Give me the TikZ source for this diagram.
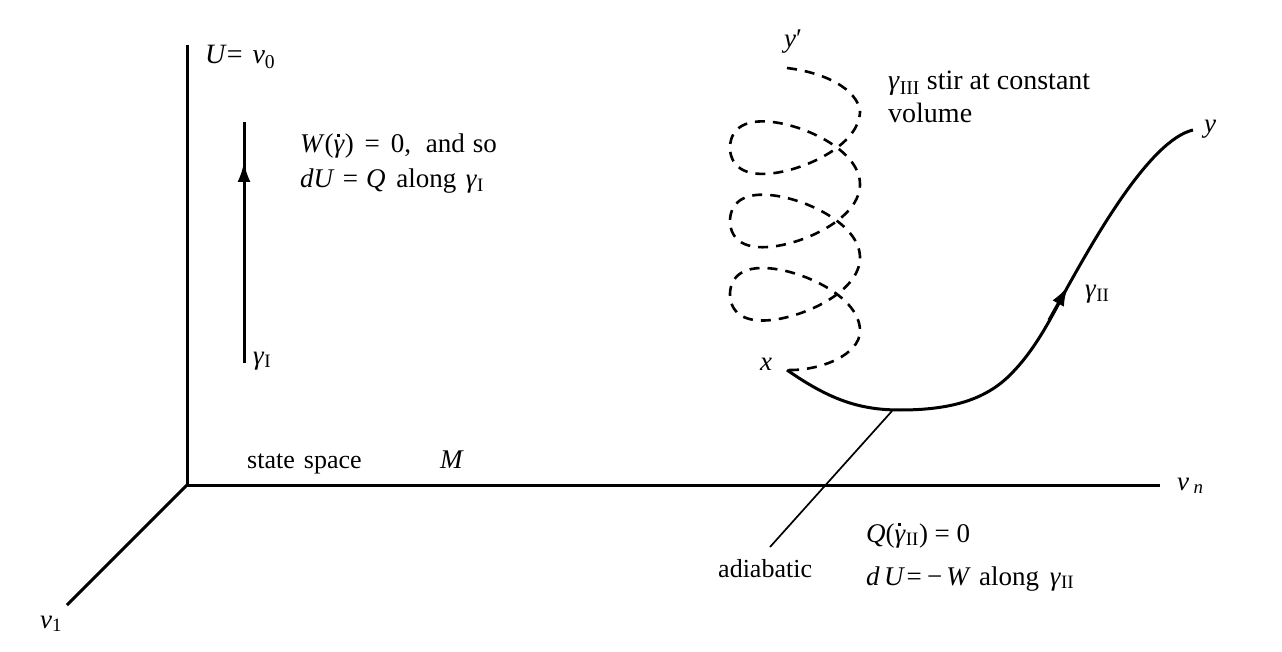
\documentclass[tikz,border=0pt]{standalone}
\usepackage{fontspec}
\setmainfont{Liberation Serif}
\usetikzlibrary{arrows.meta}
\newcommand{\gdt}{\textit{γ}\llap{\raisebox{0.6em}{\rule{0.1em}{0.1em}}\kern0.2em}}
\begin{document}
\begin{tikzpicture}[x=1pt,y=-1pt,
  ax/.style={line width=3pt},
  lbl/.style={inner sep=0pt, font=\fontsize{26}{31}\selectfont},
  lbb/.style={inner sep=0pt, font=\fontsize{27}{32}\selectfont},
  big/.style={inner sep=0pt, font=\fontsize{28}{33}\selectfont},
  spiral/.style={line width=2.6pt, dash pattern=on 10pt off 8pt},
  pathII/.style={line width=3pt},
  tipA/.style={-{Latex[length=20pt,width=13pt]}}]
\useasboundingbox (0,0) rectangle (1282,652);
% axes
\coordinate (O) at (187,485);
\coordinate (Utop) at (187,45);
\coordinate (Vn) at (1160,485);
\coordinate (V1) at (67,605);
\draw[ax] (Utop) -- (O) -- (Vn);
\draw[ax] (O) -- (V1);
% gamma I
\coordinate (g1b) at (244,363);
\coordinate (g1c) at (244,200);
\coordinate (g1a) at (244,162);
\coordinate (g1t) at (244,122);
\draw[pathII] (g1b) -- (g1t);
\draw[pathII, tipA] (g1c) -- (g1a);
% gamma II
\coordinate (xp) at (787,370);
\coordinate (bot) at (900,410);
\coordinate (ga) at (1068,286);
\coordinate (yp) at (1193,130);
\draw[pathII] (xp) .. controls (830,400) and (860,410) .. (bot)
  .. controls (950,410) and (985,400) .. (1010,375)
  .. controls (1035,350) and (1050,320) .. (1067,288)
  .. controls (1095,238) and (1150,140) .. (yp);
\coordinate (gb) at (1049,320);
\draw[pathII, tipA] (gb) -- (ga);
% adiabatic pointer
\coordinate (adA) at (892,411);
\coordinate (adB) at (770,547);
\draw[line width=1.7pt] (adA) -- (adB);
% gamma III spiral
\coordinate (yq) at (787,68);
\coordinate (r0) at (860,113);
\draw[spiral] (yq) .. controls (835,74) and (860,95) .. (r0)
  -- plot[domain=0:1080, samples=300, smooth, variable=\t]
     ({787+65*cos(\t)+8*cos(2*\t)}, {111+\t/360*73.3+43*sin(\t)})
  .. controls (860,355) and (820,371) .. (xp);
% labels
\node[big, anchor=base west] (Ul) at (205,64) {\textit{U}=\hspace{0.35em}\textit{v}\textsubscript{0}};
\node[lbb, anchor=base west] (W1) at (300,153) {\textit{W}(\gdt)\hspace{0.4em}=\hspace{0.4em}0,\hspace{0.55em}and\hspace{0.3em}so};
\node[lbb, anchor=base west] (W2) at (300,188) {\textit{dU}\hspace{0.3em}=\hspace{0.3em}\textit{Q}\hspace{0.4em}along\hspace{0.35em}\textit{γ}\textsubscript{I}};
\node[lbb, anchor=base west] (g1) at (253,364) {\textit{γ}\textsubscript{I}};
\node[lbl, anchor=base west] (ss) at (247,468) {state\hspace{0.35em}space};
\node[lbb, anchor=base west] (M) at (440,468) {\textit{M}};
\node[lbb, anchor=base west] (v1) at (40,628) {\textit{v}\textsubscript{1}};
\node[lbb, anchor=base west] (vn) at (1177,490) {\textit{v}\,\textsubscript{\textit{n}}};
\node[lbb, anchor=base west] (yql) at (784,48) {\textit{y}′};
\node[big, anchor=base west] (g3a) at (888,90) {\textit{γ}\textsubscript{III} stir at constant};
\node[big, anchor=base west] (g3b) at (888,123) {volume};
\node[lbb, anchor=base west] (xl) at (760,370) {\textit{x}};
\node[lbb, anchor=base west] (yl) at (1204,133) {\textit{y}};
\node[lbb, anchor=base west] (g2) at (1085,298) {\textit{γ}\textsubscript{II}};
\node[lbb, anchor=base west] (q1) at (866,542) {\textit{Q}(\gdt\textsubscript{II})\hspace{0.25em}=\hspace{0.25em}0};
\node[lbb, anchor=base west] (q2) at (866,585) {\textit{d\,U}\hspace{0.05em}=\hspace{0.2em}−\hspace{0.15em}\textit{W}\hspace{0.3em}along\hspace{0.4em}\textit{γ}\textsubscript{II}};
\node[lbl, anchor=base west] (adi) at (718,577) {adiabatic};
\end{tikzpicture}
\end{document}
